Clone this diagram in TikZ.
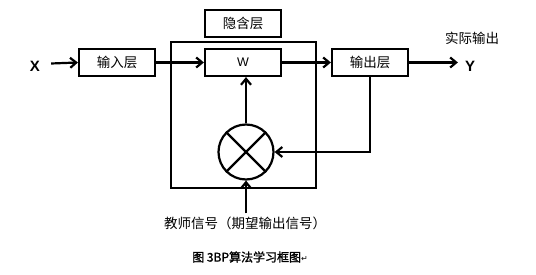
\documentclass[tikz,border=0pt]{standalone}
\usepackage{fontspec}
\newfontfamily\cjk{Noto Sans CJK SC}
\newfontfamily\cjkb[FakeBold=1.5]{Noto Sans CJK SC}
\newfontfamily\lat{Liberation Sans}
\newfontfamily\djv{DejaVu Sans}
\usetikzlibrary{arrows.meta}
\begin{document}
\begin{tikzpicture}[x=1pt,y=-1pt,
  line width=2.2pt,
  box/.style={draw, minimum width=76pt, minimum height=27pt, inner sep=0pt, font=\cjk\fontsize{13.5}{15}\selectfont},
  lbl/.style={font=\cjk\fontsize{13.5}{15}\selectfont, inner sep=2pt},
  arr/.style={-{Straight Barb[length=6pt,width=10pt,line width=2.2pt]}},
  xy/.style={font=\lat\bfseries\fontsize{15}{17}\selectfont, inner sep=2pt}]
\useasboundingbox (0,0) rectangle (536,275);
\node[draw, minimum width=145pt, minimum height=146pt, inner sep=0pt] (hid) at (243.5,115) {};
\node[box] (hl) at (243,23.5) {隐含层};
\node[box] (in) at (117,62.5) {输入层};
\node[box, font=\lat\fontsize{12.5}{14}\selectfont] (W) at (243,62.5) {W};
\node[box] (out) at (370,62.5) {输出层};
\node[xy] (X) at (35,66) {X};
\node[xy] (Y) at (470,66) {Y};
\node[lbl] (act) at (472,38) {实际输出};
\node[draw, circle, minimum size=55pt, inner sep=0pt] (c) at (246,152) {};
\draw (c.north east) -- (c.south west) (c.north west) -- (c.south east);
\node[lbl] (t) at (245,223) {教师信号（期望输出信号）};
\node[font=\cjkb\fontsize{12}{14}\selectfont, inner sep=1pt] (cap) at (250,257) {图 3BP算法学习框图{\djv\fontsize{8}{9}\selectfont ↵}};
\draw[arr] (X.east) ++(8,-2.5) -- (in.west);
\draw[arr] (in.east) -- (W.west);
\draw[arr] (W.east) -- (out.west);
\draw[arr, shorten >=4pt] (out.east) -- (Y.west |- out.east);
\draw[arr] (c.north) -- (c.north |- W.south);
\draw[arr] (out.south) |- (c.east);
\draw[arr] (c.south |- t.north) -- (c.south);
\end{tikzpicture}
\end{document}
